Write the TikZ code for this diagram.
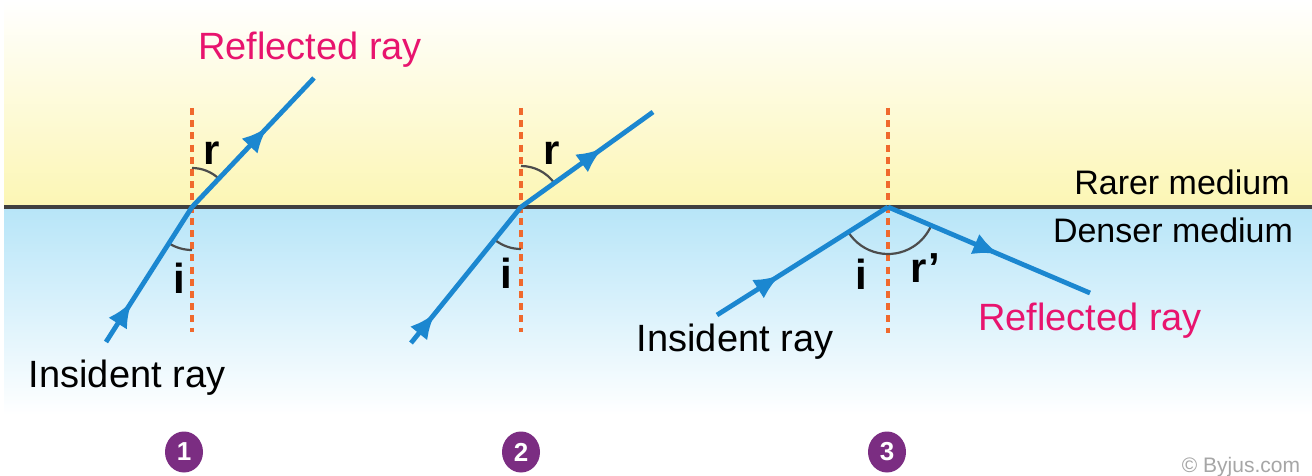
\documentclass[tikz,border=0pt]{standalone}
\usepackage{fontspec}
\setmainfont{Liberation Sans}
\usetikzlibrary{decorations.markings,arrows.meta,calc,shapes.geometric}
\definecolor{raycol}{RGB}{27,135,208}
\definecolor{normcol}{RGB}{240,105,45}
\definecolor{rareY}{RGB}{252,246,180}
\definecolor{denseB}{RGB}{183,229,248}
\definecolor{magentaT}{RGB}{232,20,110}
\definecolor{purpleN}{RGB}{123,45,130}
\begin{document}
\begin{tikzpicture}[x=0.5pt,y=-0.5pt,
  rayline/.style={raycol, line width=2.4pt, postaction={decorate},
    decoration={markings, mark=at position #1 with {\arrow{Latex[length=13pt,width=11pt]}}}},
  normline/.style={normcol, line width=1.7pt, dash pattern=on 3.5pt off 2.6pt},
  arcline/.style={black!70, line width=1.1pt},
  lbl/.style={font=\fontsize{19}{22}\selectfont, inner sep=0pt},
  medlbl/.style={font=\fontsize{17}{20}\selectfont, inner sep=0pt},
  angl/.style={font=\fontsize{21}{24}\selectfont\bfseries, inner sep=0pt},
  numc/.style={ellipse, fill=purpleN, minimum width=19pt, minimum height=20.5pt, inner sep=0pt, text=white, font=\fontsize{13}{15}\selectfont\bfseries}
]
\useasboundingbox (0,0) rectangle (1312,476);
\fill[white] (0,0) rectangle (1312,476);
\shade[top color=white, bottom color=rareY] (4,0) rectangle (1312,207);
\shade[top color=denseB, bottom color=white] (4,207) rectangle (1312,415);
\draw[black!75, line width=1.6pt] (4,207) -- (1312,207);

% ---------- diagram 1
\coordinate (h1) at (192,207);
\coordinate (s1) at (106,342);
\coordinate (e1) at (314,78);
\coordinate (n1t) at (192,108);
\coordinate (n1b) at (192,332);
\draw[normline] (n1t) -- (n1b);
\draw[arcline] ([shift={(-90:39)}]h1) arc[start angle=-90, end angle=-46.6, radius=39];
\draw[arcline] ([shift={(90:43)}]h1) arc[start angle=90, end angle=122.5, radius=43];
\draw[rayline=0.3] (s1) -- (h1);
\draw[rayline=0.62] (h1) -- (e1);
\node[angl] (r1) at (212,153) {r};
\node[angl] (i1) at (179,278) {i};
\node[lbl, text=magentaT] (refl1) at (310,50) {Reflected ray};
\node[lbl] (inc1) at (127,378) {Insident ray};
\node[numc] (c1) at (184,452) {1};

% ---------- diagram 2
\coordinate (h2) at (521,207);
\coordinate (s2) at (411,343);
\coordinate (e2) at (653,112);
\coordinate (n2t) at (521,108);
\coordinate (n2b) at (521,332);
\draw[normline] (n2t) -- (n2b);
\draw[arcline] ([shift={(-90:41)}]h2) arc[start angle=-90, end angle=-35.7, radius=41];
\draw[arcline] ([shift={(90:42)}]h2) arc[start angle=90, end angle=129, radius=42];
\draw[rayline=0.22] (s2) -- (h2);
\draw[rayline=0.62] (h2) -- (e2);
\node[angl] (r2) at (552,153) {r};
\node[angl] (i2) at (506,273) {i};
\node[numc] (c2) at (521,452) {2};

% ---------- diagram 3
\coordinate (h3) at (888,207);
\coordinate (s3) at (717,315);
\coordinate (e3) at (1090,293);
\coordinate (n3t) at (888,108);
\coordinate (n3b) at (888,333);
\draw[normline] (n3t) -- (n3b);
\draw[arcline] ([shift={(147.7:47)}]h3) arc[start angle=147.7, end angle=23.1, radius=47];
\draw[rayline=0.37] (s3) -- (h3);
\draw[rayline=0.55] (h3) -- (e3);
\node[angl] (i3) at (861,274) {i};
\node[angl] (r3) at (925,268) {r’};
\node[lbl] (inc3) at (735,342) {Insident ray};
\node[lbl, text=magentaT] (refl3) at (1090,321) {Reflected ray};
\node[numc] (c3) at (887,452) {3};

% ---------- media labels
\node[medlbl] (rarer) at (1182,182) {Rarer medium};
\node[medlbl] (denser) at (1173,230) {Denser medium};
\node[font=\fontsize{10.5}{12}\selectfont, text=black!35, inner sep=0pt] (copy) at (1241,467) {© Byjus.com};
\end{tikzpicture}
\end{document}
